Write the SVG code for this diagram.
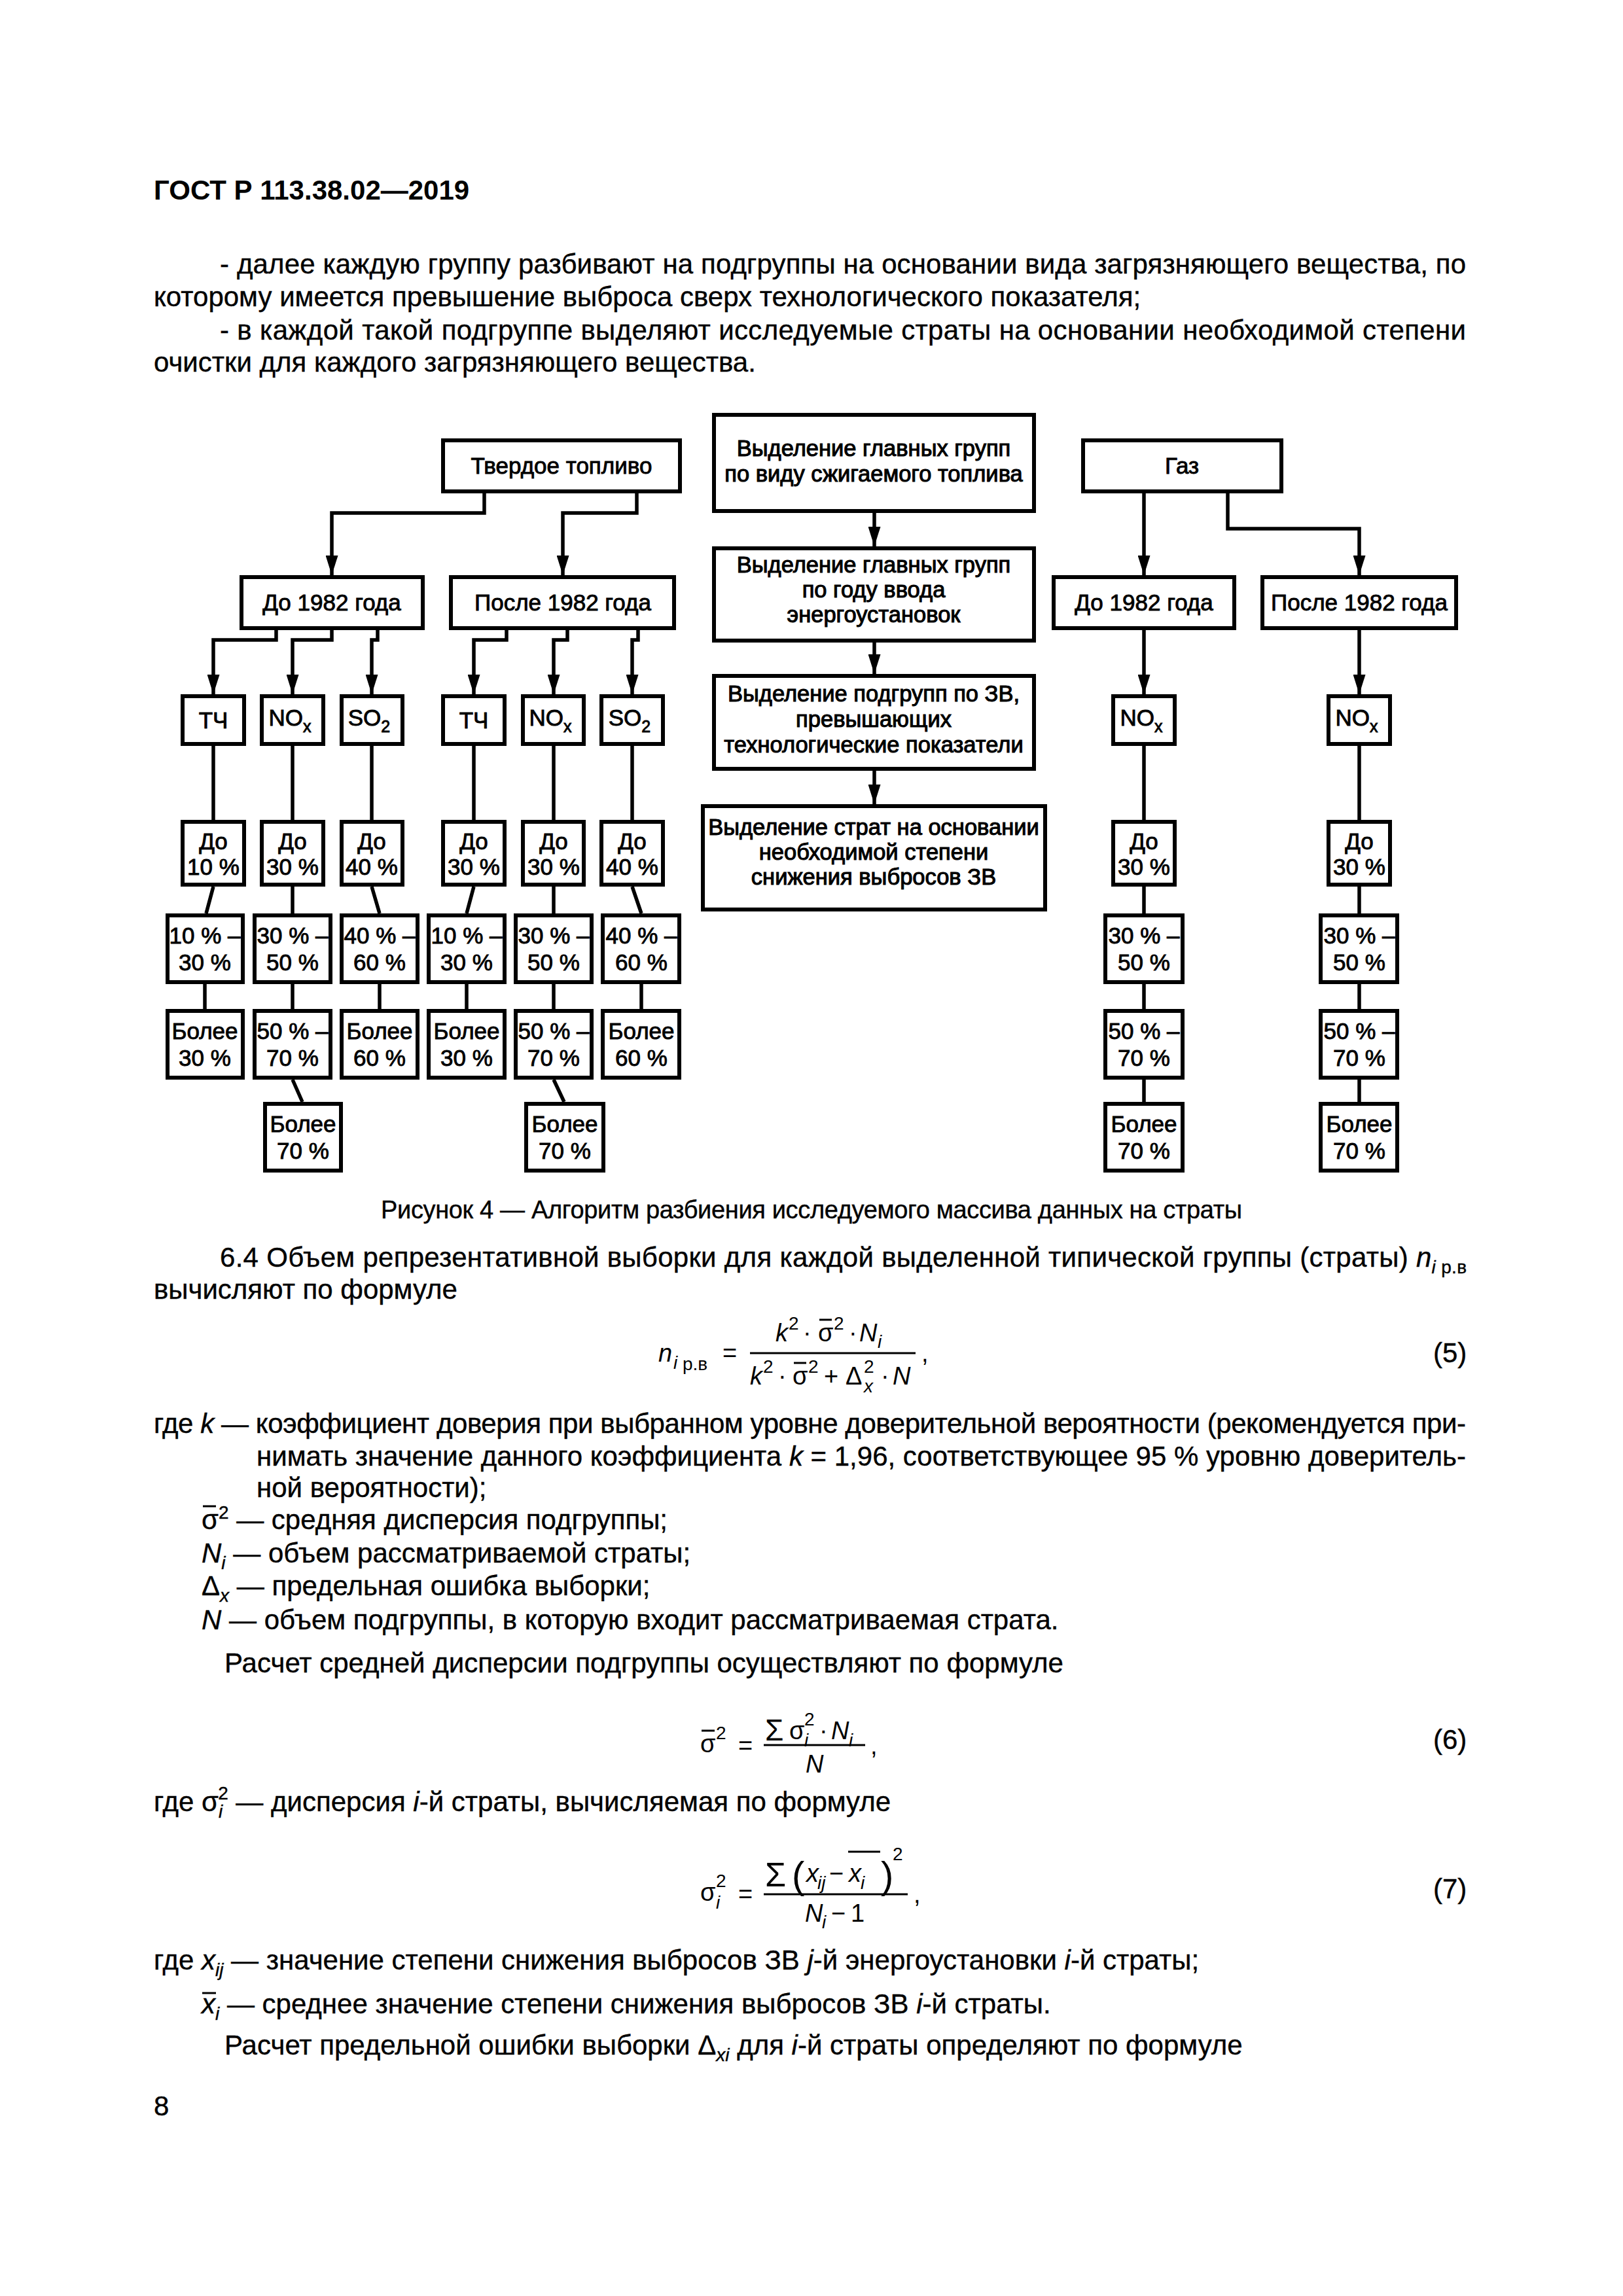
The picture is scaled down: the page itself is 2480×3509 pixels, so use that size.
<svg xmlns="http://www.w3.org/2000/svg" width="2480" height="3509" viewBox="0 0 2480 3509">
<defs>
<style>
.bx{fill:#fff;stroke:#000;stroke-width:6}
.t{font-family:"Liberation Sans",Arial,sans-serif;font-size:35px;text-anchor:middle;fill:#000;stroke:#000;stroke-width:0.9}
.m{font-family:"Liberation Sans",Arial,sans-serif;font-size:34.5px;text-anchor:middle;fill:#000;stroke:#000;stroke-width:1.1}
.sb{font-size:25px}
.c{fill:none;stroke:#000;stroke-width:5.5}
.a{marker-end:url(#ah)}
.p{font-family:"Liberation Sans",Arial,sans-serif;font-size:42px;fill:#000;stroke:#000;stroke-width:0.4}
.h{font-family:"Liberation Sans",Arial,sans-serif;font-size:42px;font-weight:bold;fill:#000}
.f{font-family:"Liberation Sans",Arial,sans-serif;font-size:38px;fill:#000}
.s{font-size:28px}
.i{font-style:italic}
.ol{stroke:#000;stroke-width:3}
</style>
<marker id="ah" markerUnits="userSpaceOnUse" markerWidth="30" markerHeight="19" viewBox="0 0 30 19" refX="30" refY="9.5" orient="auto"><path d="M0,0 L30,9.5 L0,19 z" fill="#000"/></marker>
</defs>
<rect x="0" y="0" width="2480" height="3509" fill="#fff"/>

<g id="page-text">
<text class="h" x="235" y="305">ГОСТ Р 113.38.02—2019</text>
<text class="p" x="336" y="418" textLength="1904" lengthAdjust="spacing">- далее каждую группу разбивают на подгруппы на основании вида загрязняющего вещества, по</text>
<text class="p" x="235" y="468">которому имеется превышение выброса сверх технологического показателя;</text>
<text class="p" x="336" y="519" textLength="1904" lengthAdjust="spacing">- в каждой такой подгруппе выделяют исследуемые страты на основании необходимой степени</text>
<text class="p" x="235" y="568">очистки для каждого загрязняющего вещества.</text>
</g>

<g id="connectors">
<path class="c a" d="M740,754 V784 H507 V879"/>
<path class="c a" d="M973,754 V784 H860 V879"/>
<path class="c a" d="M422,963 V978 H326 V1061"/>
<path class="c a" d="M507,963 V978 H447 V1061"/>
<path class="c a" d="M577,963 V978 H568 V1061"/>
<path class="c a" d="M774,963 V978 H724 V1061"/>
<path class="c a" d="M867,963 V978 H846 V1061"/>
<path class="c a" d="M975,963 V978 H966 V1061"/>
<path class="c a" d="M1336,784 V835"/>
<path class="c a" d="M1336,982 V1030"/>
<path class="c a" d="M1336,1178 V1229"/>
<path class="c a" d="M1748,754 V879"/>
<path class="c a" d="M1876,754 V808 H2077 V879"/>
<path class="c a" d="M1748,963 V1061"/>
<path class="c a" d="M2077,963 V1061"/>
<path class="c" d="M326,1140 V1253 M326,1355 L315,1396 M313,1504 V1542"/>
<path class="c" d="M447,1140 V1253 M447,1355 V1396 M447,1504 V1542 M447,1650 L462,1684"/>
<path class="c" d="M568,1140 V1253 M568,1355 L580,1396 M580,1504 V1542"/>
<path class="c" d="M724,1140 V1253 M724,1355 L713,1396 M713,1504 V1542"/>
<path class="c" d="M846,1140 V1253 M846,1355 V1396 M846,1504 V1542 M846,1650 L862,1684"/>
<path class="c" d="M966,1140 V1253 M966,1355 L980,1396 M980,1504 V1542"/>
<path class="c" d="M1748,1140 V1253 M1748,1355 V1396 M1748,1504 V1542 M1748,1650 V1684"/>
<path class="c" d="M2077,1140 V1253 M2077,1355 V1396 M2077,1504 V1542 M2077,1650 V1684"/>
</g>

<g id="n-solid"><rect class="bx" x="677" y="673" width="362" height="78"/><text class="t" x="858" y="724">Твердое топливо</text></g>
<g id="n-gas"><rect class="bx" x="1655" y="673" width="303" height="78"/><text class="t" x="1806" y="724">Газ</text></g>
<g id="n-m1"><rect class="bx" x="1091" y="634" width="489" height="147"/><text class="m" x="1335" y="697">Выделение главных групп</text><text class="m" x="1335" y="736">по виду сжигаемого топлива</text></g>
<g id="n-m2"><rect class="bx" x="1091" y="838" width="489" height="141"/><text class="m" x="1335" y="875">Выделение главных групп</text><text class="m" x="1335" y="913">по году ввода</text><text class="m" x="1335" y="951">энергоустановок</text></g>
<g id="n-m3"><rect class="bx" x="1091" y="1033" width="489" height="142"/><text class="m" x="1335" y="1072">Выделение подгрупп по ЗВ,</text><text class="m" x="1335" y="1111">превышающих</text><text class="m" x="1335" y="1150">технологические показатели</text></g>
<g id="n-m4"><rect class="bx" x="1074" y="1232" width="523" height="158"/><text class="m" x="1335" y="1276">Выделение страт на основании</text><text class="m" x="1335" y="1314">необходимой степени</text><text class="m" x="1335" y="1352">снижения выбросов ЗВ</text></g>

<g id="n-s-before"><rect class="bx" x="369" y="882" width="277" height="78"/><text class="t" x="507" y="933">До 1982 года</text></g>
<g id="n-s-after"><rect class="bx" x="689" y="882" width="341" height="78"/><text class="t" x="860" y="933">После 1982 года</text></g>
<g id="n-g-before"><rect class="bx" x="1610" y="882" width="276" height="78"/><text class="t" x="1748" y="933">До 1982 года</text></g>
<g id="n-g-after"><rect class="bx" x="1929" y="882" width="296" height="78"/><text class="t" x="2077" y="933">После 1982 года</text></g>

<g id="n-s1-tch"><rect class="bx" x="279" y="1064" width="94" height="73"/><text class="t" x="326" y="1113">ТЧ</text></g>
<g id="n-s1-nox"><rect class="bx" x="400" y="1064" width="94" height="73"/><text class="t" x="443" y="1109">NO<tspan class="sb" dy="10">x</tspan></text></g>
<g id="n-s1-so2"><rect class="bx" x="522" y="1064" width="93" height="73"/><text class="t" x="564" y="1109">SO<tspan class="sb" dy="10">2</tspan></text></g>
<g id="n-s2-tch"><rect class="bx" x="677" y="1064" width="94" height="73"/><text class="t" x="724" y="1113">ТЧ</text></g>
<g id="n-s2-nox"><rect class="bx" x="799" y="1064" width="93" height="73"/><text class="t" x="841" y="1109">NO<tspan class="sb" dy="10">x</tspan></text></g>
<g id="n-s2-so2"><rect class="bx" x="919" y="1064" width="94" height="73"/><text class="t" x="962" y="1109">SO<tspan class="sb" dy="10">2</tspan></text></g>
<g id="n-g1-nox"><rect class="bx" x="1701" y="1064" width="94" height="73"/><text class="t" x="1744" y="1109">NO<tspan class="sb" dy="10">x</tspan></text></g>
<g id="n-g2-nox"><rect class="bx" x="2030" y="1064" width="94" height="73"/><text class="t" x="2073" y="1109">NO<tspan class="sb" dy="10">x</tspan></text></g>

<g id="n-s1-tch-1"><rect class="bx" x="279" y="1256" width="94" height="96"/><text class="t" x="326" y="1298">До</text><text class="t" x="326" y="1337">10 %</text></g>
<g id="n-s1-nox-1"><rect class="bx" x="400" y="1256" width="94" height="96"/><text class="t" x="447" y="1298">До</text><text class="t" x="447" y="1337">30 %</text></g>
<g id="n-s1-so2-1"><rect class="bx" x="522" y="1256" width="93" height="96"/><text class="t" x="568" y="1298">До</text><text class="t" x="568" y="1337">40 %</text></g>
<g id="n-s2-tch-1"><rect class="bx" x="677" y="1256" width="94" height="96"/><text class="t" x="724" y="1298">До</text><text class="t" x="724" y="1337">30 %</text></g>
<g id="n-s2-nox-1"><rect class="bx" x="799" y="1256" width="93" height="96"/><text class="t" x="846" y="1298">До</text><text class="t" x="846" y="1337">30 %</text></g>
<g id="n-s2-so2-1"><rect class="bx" x="919" y="1256" width="94" height="96"/><text class="t" x="966" y="1298">До</text><text class="t" x="966" y="1337">40 %</text></g>
<g id="n-g1-1"><rect class="bx" x="1701" y="1256" width="94" height="96"/><text class="t" x="1748" y="1298">До</text><text class="t" x="1748" y="1337">30 %</text></g>
<g id="n-g2-1"><rect class="bx" x="2030" y="1256" width="94" height="96"/><text class="t" x="2077" y="1298">До</text><text class="t" x="2077" y="1337">30 %</text></g>

<g id="n-s1-tch-2"><rect class="bx" x="256" y="1399" width="115" height="102"/><text class="t" x="313" y="1442">10 % –</text><text class="t" x="313" y="1483">30 %</text></g>
<g id="n-s1-nox-2"><rect class="bx" x="389" y="1399" width="116" height="102"/><text class="t" x="447" y="1442">30 % –</text><text class="t" x="447" y="1483">50 %</text></g>
<g id="n-s1-so2-2"><rect class="bx" x="522" y="1399" width="116" height="102"/><text class="t" x="580" y="1442">40 % –</text><text class="t" x="580" y="1483">60 %</text></g>
<g id="n-s2-tch-2"><rect class="bx" x="655" y="1399" width="116" height="102"/><text class="t" x="713" y="1442">10 % –</text><text class="t" x="713" y="1483">30 %</text></g>
<g id="n-s2-nox-2"><rect class="bx" x="788" y="1399" width="116" height="102"/><text class="t" x="846" y="1442">30 % –</text><text class="t" x="846" y="1483">50 %</text></g>
<g id="n-s2-so2-2"><rect class="bx" x="921" y="1399" width="117" height="102"/><text class="t" x="980" y="1442">40 % –</text><text class="t" x="980" y="1483">60 %</text></g>
<g id="n-g1-2"><rect class="bx" x="1689" y="1399" width="118" height="102"/><text class="t" x="1748" y="1442">30 % –</text><text class="t" x="1748" y="1483">50 %</text></g>
<g id="n-g2-2"><rect class="bx" x="2018" y="1399" width="117" height="102"/><text class="t" x="2077" y="1442">30 % –</text><text class="t" x="2077" y="1483">50 %</text></g>

<g id="n-s1-tch-3"><rect class="bx" x="256" y="1545" width="115" height="102"/><text class="t" x="313" y="1588">Более</text><text class="t" x="313" y="1629">30 %</text></g>
<g id="n-s1-nox-3"><rect class="bx" x="389" y="1545" width="116" height="102"/><text class="t" x="447" y="1588">50 % –</text><text class="t" x="447" y="1629">70 %</text></g>
<g id="n-s1-so2-3"><rect class="bx" x="522" y="1545" width="116" height="102"/><text class="t" x="580" y="1588">Более</text><text class="t" x="580" y="1629">60 %</text></g>
<g id="n-s2-tch-3"><rect class="bx" x="655" y="1545" width="116" height="102"/><text class="t" x="713" y="1588">Более</text><text class="t" x="713" y="1629">30 %</text></g>
<g id="n-s2-nox-3"><rect class="bx" x="788" y="1545" width="116" height="102"/><text class="t" x="846" y="1588">50 % –</text><text class="t" x="846" y="1629">70 %</text></g>
<g id="n-s2-so2-3"><rect class="bx" x="921" y="1545" width="117" height="102"/><text class="t" x="980" y="1588">Более</text><text class="t" x="980" y="1629">60 %</text></g>
<g id="n-g1-3"><rect class="bx" x="1689" y="1545" width="118" height="102"/><text class="t" x="1748" y="1588">50 % –</text><text class="t" x="1748" y="1629">70 %</text></g>
<g id="n-g2-3"><rect class="bx" x="2018" y="1545" width="117" height="102"/><text class="t" x="2077" y="1588">50 % –</text><text class="t" x="2077" y="1629">70 %</text></g>

<g id="n-s1-nox-4"><rect class="bx" x="405" y="1687" width="116" height="102"/><text class="t" x="463" y="1730">Более</text><text class="t" x="463" y="1771">70 %</text></g>
<g id="n-s2-nox-4"><rect class="bx" x="804" y="1687" width="118" height="102"/><text class="t" x="863" y="1730">Более</text><text class="t" x="863" y="1771">70 %</text></g>
<g id="n-g1-4"><rect class="bx" x="1689" y="1687" width="118" height="102"/><text class="t" x="1748" y="1730">Более</text><text class="t" x="1748" y="1771">70 %</text></g>
<g id="n-g2-4"><rect class="bx" x="2018" y="1687" width="117" height="102"/><text class="t" x="2077" y="1730">Более</text><text class="t" x="2077" y="1771">70 %</text></g>

<g id="body">
<text class="p" x="1240" y="1862" text-anchor="middle" style="font-size:38px" textLength="1316" lengthAdjust="spacing">Рисунок 4 — Алгоритм разбиения исследуемого массива данных на страты</text>
<text class="p" x="336" y="1936" textLength="1905" lengthAdjust="spacing">6.4 Объем репрезентативной выборки для каждой выделенной типической группы (страты) <tspan class="i">n</tspan><tspan class="s i" dy="10">i</tspan><tspan class="s"> р.в</tspan></text>
<text class="p" x="235" y="1985">вычисляют по формуле</text>

<text class="f i" x="1006" y="2081">n</text><text class="f s i" x="1029" y="2092">i</text><text class="f s" x="1043" y="2094">р.в</text>
<text class="f" x="1104" y="2081">=</text>
<line class="ol" x1="1146" y1="2068" x2="1399" y2="2068"/>
<text class="f i" x="1185" y="2050">k</text><text class="f s" x="1205" y="2032">2</text><text class="f" x="1227" y="2050">·</text>
<text class="f" x="1250" y="2050">σ</text><line class="ol" x1="1252" y1="2017" x2="1271" y2="2017"/><text class="f s" x="1274" y="2032">2</text>
<text class="f" x="1297" y="2050">·</text><text class="f i" x="1313" y="2050">N</text><text class="f s i" x="1341" y="2060">i</text>
<text class="f i" x="1146" y="2116">k</text><text class="f s" x="1166" y="2098">2</text><text class="f" x="1189" y="2116">·</text>
<text class="f" x="1211" y="2116">σ</text><line class="ol" x1="1213" y1="2083" x2="1232" y2="2083"/><text class="f s" x="1235" y="2098">2</text>
<text class="f" x="1259" y="2116">+</text><text class="f" x="1292" y="2116">Δ</text><text class="f s" x="1320" y="2098">2</text><text class="f s i" x="1320" y="2128">x</text>
<text class="f" x="1346" y="2116">·</text><text class="f i" x="1364" y="2116">N</text>
<text class="f" x="1408" y="2081">,</text>
<text class="p" x="2190" y="2082">(5)</text>

<text class="p" x="235" y="2190" textLength="2005" lengthAdjust="spacing">где <tspan class="i">k</tspan> — коэффициент доверия при выбранном уровне доверительной вероятности (рекомендуется при-</text>
<text class="p" x="392" y="2240" textLength="1848" lengthAdjust="spacing">нимать значение данного коэффициента <tspan class="i">k</tspan> = 1,96, соответствующее 95 % уровню доверитель-</text>
<text class="p" x="392" y="2288">ной вероятности);</text>
<text class="p" x="308" y="2337">σ<tspan class="s" dy="-16">2</tspan><tspan dy="16"> — средняя дисперсия подгруппы;</tspan></text>
<line class="ol" x1="310" y1="2302" x2="330" y2="2302"/>
<text class="p" x="308" y="2388"><tspan class="i">N</tspan><tspan class="s i" dy="10">i</tspan><tspan dy="-10"> — объем рассматриваемой страты;</tspan></text>
<text class="p" x="308" y="2438">Δ<tspan class="s i" dy="10">x</tspan><tspan dy="-10"> — предельная ошибка выборки;</tspan></text>
<text class="p" x="308" y="2490"><tspan class="i">N</tspan> — объем подгруппы, в которую входит рассматриваемая страта.</text>
<text class="p" x="343" y="2556">Расчет средней дисперсии подгруппы осуществляют по формуле</text>

<text class="f" x="1070" y="2678">σ</text><line class="ol" x1="1072" y1="2645" x2="1092" y2="2645"/><text class="f s" x="1094" y="2658">2</text>
<text class="f" x="1128" y="2681">=</text>
<line class="ol" x1="1167" y1="2667" x2="1322" y2="2667"/>
<text class="f" x="1169" y="2660" style="font-size:46px">Σ</text>
<text class="f" x="1206" y="2658">σ</text><text class="f s" x="1229" y="2637">2</text><text class="f s i" x="1229" y="2669">i</text>
<text class="f" x="1252" y="2658">·</text><text class="f i" x="1270" y="2658">N</text><text class="f s i" x="1297" y="2669">i</text>
<text class="f i" x="1231" y="2709">N</text>
<text class="f" x="1330" y="2681">,</text>
<text class="p" x="2190" y="2673">(6)</text>

<text class="p" x="235" y="2768">где σ<tspan class="s i" dy="10">i</tspan><tspan class="s" dx="-7" dy="-28">2</tspan><tspan dy="18"> — дисперсия </tspan><tspan class="i">i</tspan>-й страты, вычисляемая по формуле</text>

<text class="f" x="1070" y="2905">σ</text><text class="f s" x="1094" y="2884">2</text><text class="f s i" x="1094" y="2917">i</text>
<text class="f" x="1128" y="2908">=</text>
<line class="ol" x1="1167" y1="2895" x2="1387" y2="2895"/>
<text class="f" x="1169" y="2883" style="font-size:52px">Σ</text>
<text class="f" x="1210" y="2886" style="font-size:58px">(</text>
<text class="f i" x="1232" y="2876">x</text><text class="f s i" x="1249" y="2887">ij</text>
<text class="f" x="1267" y="2876">−</text>
<text class="f i" x="1297" y="2876">x</text><text class="f s i" x="1315" y="2887">i</text><line class="ol" x1="1296" y1="2830" x2="1345" y2="2830"/>
<text class="f" x="1346" y="2886" style="font-size:58px">)</text><text class="f s" x="1364" y="2843">2</text>
<text class="f i" x="1230" y="2937">N</text><text class="f s i" x="1256" y="2947">i</text>
<text class="f" x="1270" y="2937">−</text><text class="f" x="1300" y="2937">1</text>
<text class="f" x="1396" y="2908">,</text>
<text class="p" x="2190" y="2901">(7)</text>

<text class="p" x="235" y="3010">где <tspan class="i">x</tspan><tspan class="s i" dy="10">ij</tspan><tspan dy="-10"> — значение степени снижения выбросов ЗВ </tspan><tspan class="i">j</tspan>-й энергоустановки <tspan class="i">i</tspan>-й страты;</text>
<text class="p" x="308" y="3077"><tspan class="i">x</tspan><tspan class="s i" dy="10">i</tspan><tspan dy="-10"> — среднее значение степени снижения выбросов ЗВ </tspan><tspan class="i">i</tspan>-й страты.</text>
<line class="ol" x1="309" y1="3046" x2="330" y2="3046"/>
<text class="p" x="343" y="3140">Расчет предельной ошибки выборки Δ<tspan class="s i" dy="10">xi</tspan><tspan dy="-10"> для </tspan><tspan class="i">i</tspan>-й страты определяют по формуле</text>
<text class="p" x="235" y="3233">8</text>
</g>
</svg>
